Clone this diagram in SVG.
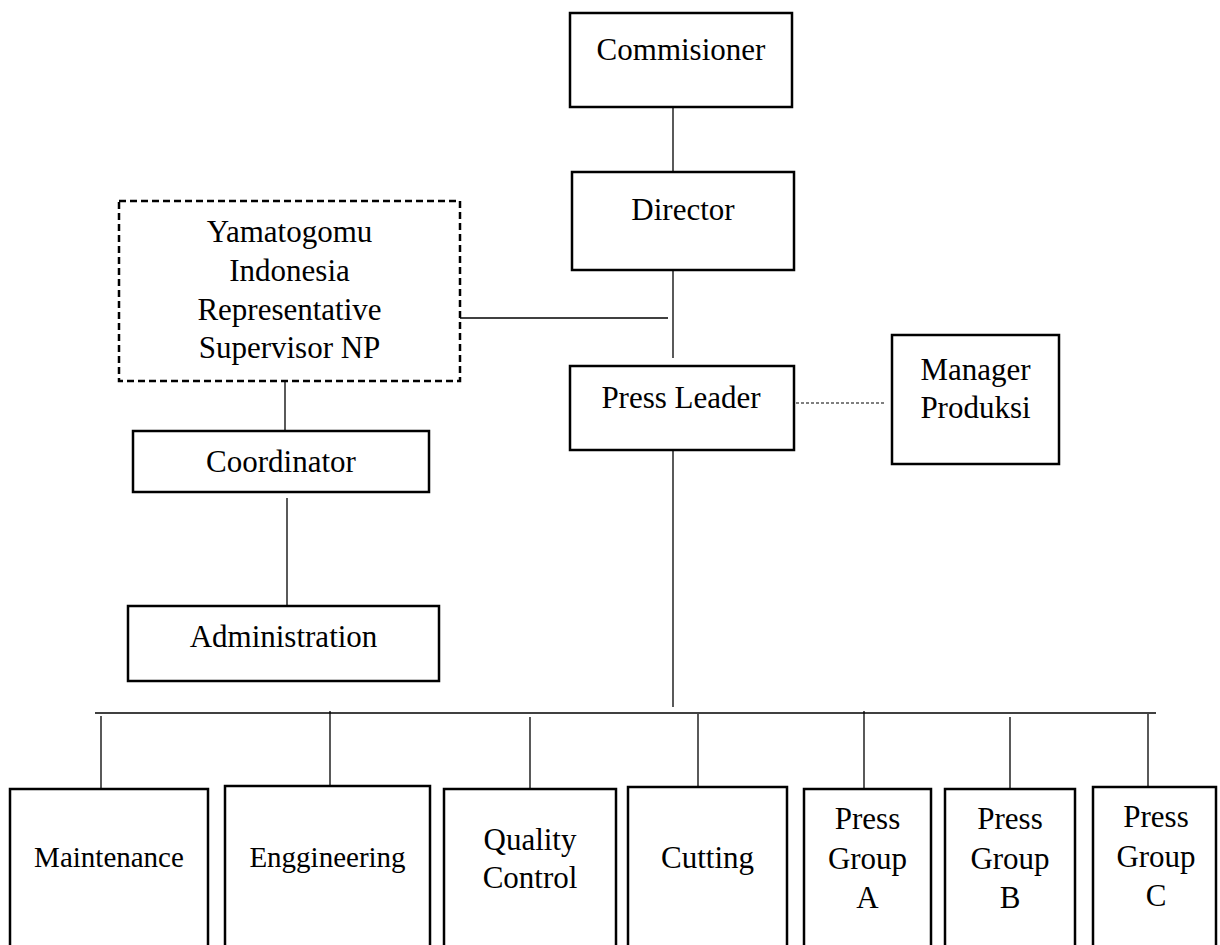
<svg xmlns="http://www.w3.org/2000/svg" width="1220" height="945" viewBox="0 0 1220 945">
<style>
  .box { fill: #ffffff; stroke: #000000; stroke-width: 2.5; }
  .dbox { fill: #ffffff; stroke: #000000; stroke-width: 2.5; stroke-dasharray: 7 4; }
  .t { font-family: "Liberation Serif", "Times New Roman", serif; font-size: 31px; fill: #000000; text-anchor: middle; }
  .ts { font-family: "Liberation Serif", "Times New Roman", serif; font-size: 29px; fill: #000000; text-anchor: middle; }
  .ln { stroke: #000000; stroke-width: 1.3; fill: none; }
  .dot { stroke: #000000; stroke-width: 1.2; fill: none; stroke-dasharray: 3 2; }
</style>
<rect width="1220" height="945" fill="#ffffff"/>
<g id="connectors">
  <line class="ln" x1="673" y1="107" x2="673" y2="172"/>
  <line class="ln" x1="673" y1="265" x2="673" y2="358"/>
  <line class="ln" x1="456" y1="318" x2="668" y2="318"/>
  <line class="dot" x1="796" y1="403" x2="886" y2="403"/>
  <line class="ln" x1="285" y1="381" x2="285" y2="431"/>
  <line class="ln" x1="287" y1="498" x2="287" y2="606"/>
  <line class="ln" x1="673" y1="448" x2="673" y2="707"/>
  <line class="ln" x1="95" y1="713" x2="1156" y2="713"/>
  <line class="ln" x1="101" y1="716" x2="101" y2="789"/>
  <line class="ln" x1="330" y1="711" x2="330" y2="785"/>
  <line class="ln" x1="530" y1="717" x2="530" y2="789"/>
  <line class="ln" x1="698" y1="714" x2="698" y2="787"/>
  <line class="ln" x1="864" y1="711" x2="864" y2="789"/>
  <line class="ln" x1="1010" y1="717" x2="1010" y2="789"/>
  <line class="ln" x1="1148" y1="714" x2="1148" y2="786"/>
</g>
<g id="commisioner">
  <rect class="box" x="570" y="13" width="222" height="94"/>
  <text class="t" x="681" y="60">Commisioner</text>
</g>
<g id="director">
  <rect class="box" x="572" y="172" width="222" height="98"/>
  <text class="t" x="683" y="220">Director</text>
</g>
<g id="representative">
  <rect class="dbox" x="119" y="201" width="341" height="180"/>
  <text class="t" x="289.5" y="242">Yamatogomu</text>
  <text class="t" x="289.5" y="281">Indonesia</text>
  <text class="t" x="289.5" y="320">Representative</text>
  <text class="t" x="289.5" y="358">Supervisor NP</text>
</g>
<g id="press-leader">
  <rect class="box" x="570" y="366" width="224" height="84"/>
  <text class="t" x="681" y="408">Press Leader</text>
</g>
<g id="manager-produksi">
  <rect class="box" x="892" y="335" width="167" height="129"/>
  <text class="t" x="975.5" y="380">Manager</text>
  <text class="t" x="975.5" y="418">Produksi</text>
</g>
<g id="coordinator">
  <rect class="box" x="133" y="431" width="296" height="61"/>
  <text class="t" x="281" y="472">Coordinator</text>
</g>
<g id="administration">
  <rect class="box" x="128" y="606" width="311" height="75"/>
  <text class="t" x="283.5" y="647">Administration</text>
</g>
<g id="maintenance">
  <rect class="box" x="10" y="789" width="198" height="170"/>
  <text class="ts" x="109" y="867">Maintenance</text>
</g>
<g id="enggineering">
  <rect class="box" x="225" y="786" width="205" height="170"/>
  <text class="ts" x="327.5" y="867">Enggineering</text>
</g>
<g id="quality-control">
  <rect class="box" x="444" y="789" width="172" height="170"/>
  <text class="t" x="530" y="850">Quality</text>
  <text class="t" x="530" y="888">Control</text>
</g>
<g id="cutting">
  <rect class="box" x="628" y="787" width="159" height="170"/>
  <text class="t" x="707.5" y="868">Cutting</text>
</g>
<g id="press-group-a">
  <rect class="box" x="804" y="789" width="127" height="170"/>
  <text class="t" x="867.5" y="829">Press</text>
  <text class="t" x="867.5" y="869">Group</text>
  <text class="t" x="867.5" y="908">A</text>
</g>
<g id="press-group-b">
  <rect class="box" x="945" y="789" width="130" height="170"/>
  <text class="t" x="1010" y="829">Press</text>
  <text class="t" x="1010" y="869">Group</text>
  <text class="t" x="1010" y="908">B</text>
</g>
<g id="press-group-c">
  <rect class="box" x="1093" y="787" width="123" height="170"/>
  <text class="t" x="1156" y="827">Press</text>
  <text class="t" x="1156" y="867">Group</text>
  <text class="t" x="1156" y="906">C</text>
</g>
</svg>
